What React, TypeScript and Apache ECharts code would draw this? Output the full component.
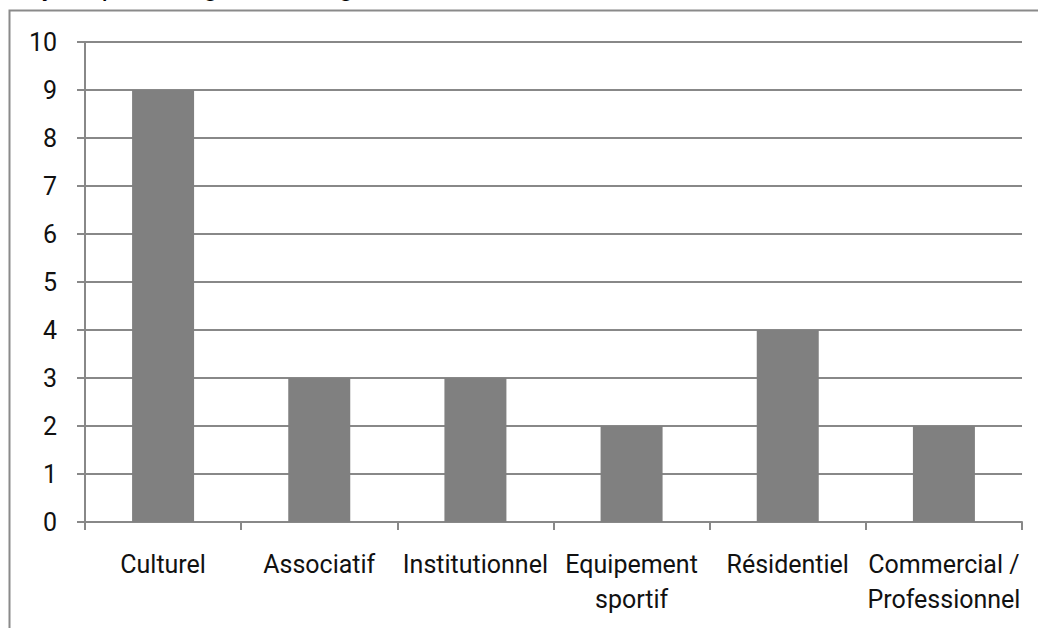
import React, { useEffect, useRef } from "react";
import * as echarts from "echarts";

const categories = ["Culturel", "Associatif", "Institutionnel", "Equipement\nsportif", "Résidentiel", "Commercial /\nProfessionnel"];
const values = [9, 3, 3, 2, 4, 2];
const titleText = "Projets, par catégorie d'usage";

const FONT = "Roboto, sans-serif";

export default function App() {
  const ref = useRef<HTMLDivElement>(null);
  useEffect(() => {
    document.body.style.margin = "0";
    const chart = echarts.init(ref.current!, null, { renderer: "svg" });
    chart.setOption({
      animation: false,
      backgroundColor: "#ffffff",
      graphic: [
        {
          type: "rect",
          shape: { x: 9.5, y: 10.5, width: 1200, height: 800 },
          style: { fill: "none", stroke: "#8a8a8a", lineWidth: 2 },
          z: -1,
        },
        {
          type: "text",
          x: 1,
          y: -1,
          style: { text: titleText, font: `28px ${FONT}`, fill: "#000", verticalAlign: "bottom", align: "left" },
        },
      ],
      grid: { left: 85, right: 16, top: 42, bottom: 106, containLabel: false },
      xAxis: {
        type: "category",
        data: categories,
        axisLine: { lineStyle: { color: "#888", width: 2 } },
        axisTick: { show: true, length: 8, lineStyle: { color: "#888", width: 2 }, alignWithLabel: false },
        axisLabel: { color: "#111", fontSize: 25, fontFamily: FONT, margin: 25, lineHeight: 35, interval: 0 },
      },
      yAxis: {
        type: "value",
        min: 0,
        max: 10,
        interval: 1,
        axisLine: { show: true, lineStyle: { color: "#888", width: 2 } },
        axisTick: { show: true, length: 8, lineStyle: { color: "#888", width: 2 } },
        splitLine: { lineStyle: { color: "#888", width: 2 } },
        axisLabel: { color: "#111", fontSize: 25, fontFamily: FONT, margin: 28 },
      },
      series: [
        {
          type: "bar",
          data: values,
          barWidth: 62,
          itemStyle: { color: "#808080" },
        },
      ],
    });
    return () => chart.dispose();
  }, []);
  return <div ref={ref} style={{ width: 1038, height: 628 }} />;
}
